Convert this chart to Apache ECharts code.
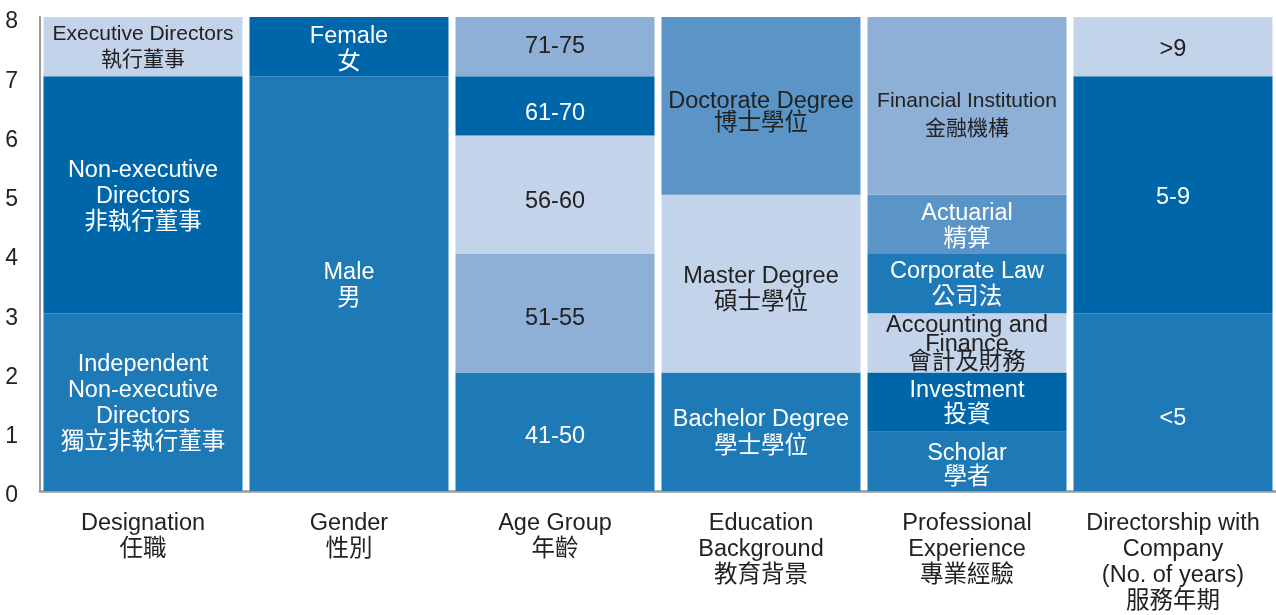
<!DOCTYPE html>
<html>
<head>
<meta charset="utf-8">
<script src="https://cdn.jsdelivr.net/npm/echarts@6/dist/echarts.min.js"></script>
<style>
html,body{margin:0;padding:0;background:#fff;}
#chart{width:1276px;height:615px;}
</style>
</head>
<body>
<div id="chart"></div>
<script>
// ---- Data ----
const categories = ['Designation\n任職', 'Gender\n性別', 'Age Group\n年齡', 'Education\nBackground\n教育背景', 'Professional\nExperience\n專業經驗', 'Directorship with\nCompany\n(No. of years)\n服務年期'];
const yTicks = [0, 1, 2, 3, 4, 5, 6, 7, 8];

const designationValues = [3, 4, 1];
const designationNames = ['Independent\nNon-executive\nDirectors\n獨立非執行董事', 'Non-executive\nDirectors\n非執行董事', 'Executive Directors\n執行董事'];

const genderValues = [7, 1];
const genderNames = ['Male\n男', 'Female\n女'];

const ageValues = [2, 2, 2, 1, 1];
const ageNames = ['41-50', '51-55', '56-60', '61-70', '71-75'];

const educationValues = [2, 3, 3];
const educationNames = ['Bachelor Degree\n學士學位', 'Master Degree\n碩士學位', 'Doctorate Degree\n博士學位'];

const professionValues = [1, 1, 1, 1, 1, 3];
const professionNames = ['Scholar\n學者', 'Investment\n投資', 'Accounting and\nFinance\n會計及財務', 'Corporate Law\n公司法', 'Actuarial\n精算', 'Financial Institution\n金融機構'];

const tenureValues = [3, 4, 1];
const tenureNames = ['<5', '5-9', '>9'];

// ---- Styles ----
const C = { lightest: '#c3d3ea', lightMid: '#8eafd6', mid: '#5b95c8', medium: '#1e7ab7', dark: '#0066aa' };
const W = '#ffffff', D = '#222222';
const groups = [
  { values: designationValues, names: designationNames, colors: [C.medium, C.dark, C.lightest], text: [W, W, D], fs: [23.5, 23.5, 21], dy: [1, 1.5, 1] },
  { values: genderValues, names: genderNames, colors: [C.medium, C.dark], text: [W, W], dy: [2, 3] },
  { values: ageValues, names: ageNames, colors: [C.medium, C.lightMid, C.lightest, C.dark, C.lightMid], text: [W, D, D, W, D], dy: [5, 5, 7, 8, 0] },
  { values: educationValues, names: educationNames, colors: [C.medium, C.lightest, C.mid], text: [W, D, D], lh: [27, 26, 22], dy: [1.5, 5.5, 7] },
  { values: professionValues, names: professionNames, colors: [C.medium, C.dark, C.lightest, C.medium, C.mid, C.lightMid], text: [W, W, D, W, W, D], lh: [24, 25, 18.5, 26, 26, 28], fs: [23.5, 23.5, 23.5, 23.5, 23.5, 21], dy: [4.5, 1, 1.5, 1, 2, 9] },
  { values: tenureValues, names: tenureNames, colors: [C.medium, C.dark, C.lightest], text: [W, W, D], dy: [16, 3, 3] }
];

const FONT = '"Liberation Sans", Arial, "Noto Sans CJK TC", sans-serif';
const maxLayers = Math.max(...groups.map(g => g.values.length));
const series = [];
for (let i = 0; i < maxLayers; i++) {
  series.push({
    type: 'bar',
    stack: 'total',
    barWidth: 199,
    silent: true,
    data: groups.map(g => {
      if (i >= g.values.length) return '-';
      return {
        value: g.values[i],
        labelText: g.names[i],
        itemStyle: { color: g.colors[i] },
        label: {
          color: g.text[i],
          lineHeight: g.lh ? g.lh[i] : 26,
          fontSize: g.fs ? g.fs[i] : 23.5,
          offset: [0, g.dy ? g.dy[i] : 0]
        }
      };
    }),
    label: {
      show: true,
      position: 'inside',
      fontSize: 23.5,
      fontFamily: FONT,
      lineHeight: 26,
      formatter: p => p.data.labelText
    }
  });
}

const chart = echarts.init(document.getElementById('chart'));
chart.setOption({
  animation: false,
  textStyle: { fontFamily: FONT },
  grid: { left: 40, right: 0, top: 17, bottom: 123, containLabel: false },
  xAxis: {
    type: 'category',
    data: categories,
    axisLine: { show: true, lineStyle: { color: '#999999', width: 2.5 } },
    axisTick: { show: false },
    axisLabel: { color: D, fontSize: 23.5, lineHeight: 26, margin: 20, fontFamily: FONT, interval: 0 }
  },
  yAxis: {
    type: 'value',
    min: yTicks[0],
    max: yTicks[yTicks.length - 1],
    interval: 1,
    axisLine: { show: true, lineStyle: { color: '#999999', width: 2 } },
    axisTick: { show: false },
    splitLine: { show: false },
    axisLabel: {
      color: D, fontSize: 23, margin: 22, fontFamily: FONT,
      formatter: v => '{v|' + v + '}',
      rich: { v: { color: D, fontSize: 23, fontFamily: FONT, padding: [10, 0, 0, 0] } }
    }
  },
  series: series
});
</script>
</body>
</html>
